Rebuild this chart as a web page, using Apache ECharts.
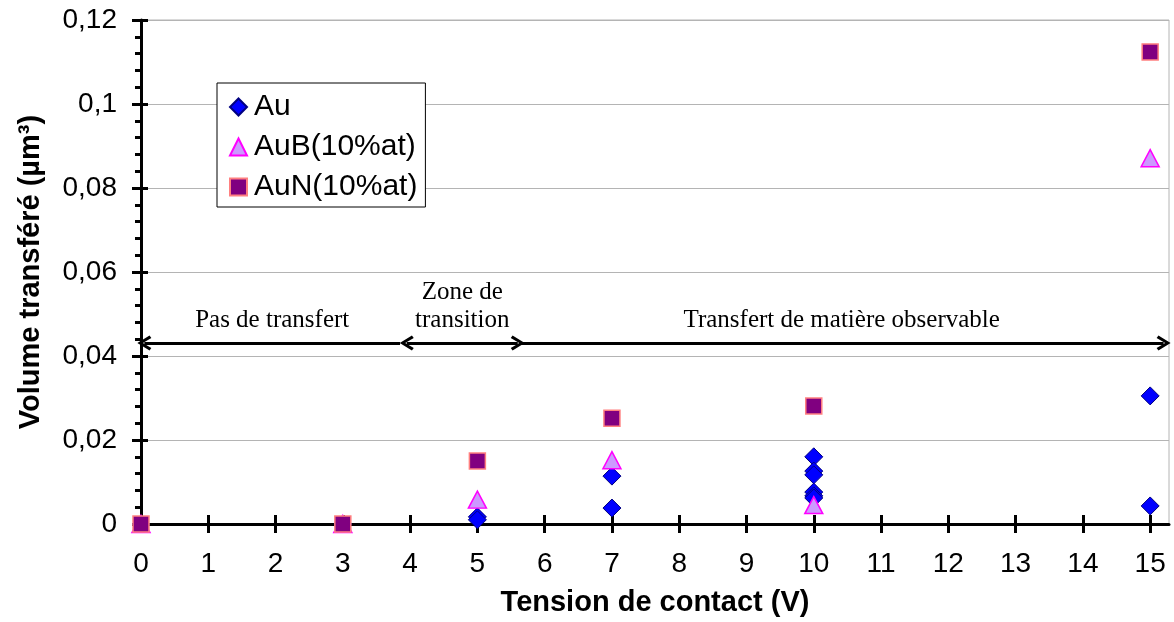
<!DOCTYPE html>
<html><head><meta charset="utf-8">
<script src="https://cdn.jsdelivr.net/npm/echarts@6/dist/echarts.min.js"></script>
<style>html,body{margin:0;padding:0;background:#fff}#c{width:1174px;height:622px}</style>
</head><body><div id="c"></div>
<script>
// Data
const xTicks = [0,1,2,3,4,5,6,7,8,9,10,11,12,13,14,15];
const auData  = [[0,0],[3,0],[5,0.0017],[5,0.001],[7,0.0114],[7,0.0038],[10,0.016],[10,0.0126],[10,0.0117],[10,0.0076],[10,0.0067],[10,0.0062],[15,0.0305],[15,0.0043]];
const aubData = [[0,0],[3,0],[5,0.0058],[7,0.0152],[10,0.0045],[15,0.0871]];
const aunData = [[0,0],[3,0],[5,0.015],[7,0.0252],[10,0.0281],[15,0.1124]];
const zoneY = 0.0431;
const zones = [
  {from:0.05, to:3.85, label:'Pas de transfert', sym:['chev','none']},
  {from:3.95, to:5.6, label:'Zone de\ntransition', sym:['chev','chev']},
  {from:5.63, to:15.2, label:'Transfert de matière observable', sym:['none','chev']}
];

const chart = echarts.init(document.getElementById('c'));
const sans = 'Liberation Sans, Arial, sans-serif';
const serif = 'Liberation Serif, Times New Roman, serif';
const fmtY = v => v === 0 ? '0' : String(+v.toFixed(2)).replace('.', ',');
const X_MAX = 15.28;
const CHEV = 'path://M6,0 L12,10 L10,11.5 L6,4.5 L2,11.5 L0,10 Z';
const sym = s => s === 'chev' ? CHEV : 'none';

chart.setOption({
  animation:false,
  backgroundColor:'#fff',
  grid:{left:141, right:5, top:20, bottom:98, show:true, borderColor:'#B4B4B4', borderWidth:1, backgroundColor:'transparent'},
  legend:{
    orient:'vertical', left:217, top:83,
    backgroundColor:'#fff', borderColor:'#000', borderWidth:1,
    padding:[9,8,5,12], itemGap:10, itemWidth:17, itemHeight:17,
    textStyle:{fontFamily:sans, fontSize:30, color:'#000', padding:[0,0,0,2]},
    data:['Au','AuB(10%at)','AuN(10%at)']
  },
  xAxis:[{
    type:'value', min:0, max:X_MAX, interval:1, position:'bottom',
    name:'Tension de contact (V)', nameLocation:'middle', nameGap:64,
    nameTextStyle:{fontFamily:sans, fontSize:29, fontWeight:'bold', color:'#000'},
    axisLine:{show:true, onZero:false, lineStyle:{color:'#000', width:3}},
    axisTick:{show:true, inside:false, length:9, customValues:xTicks, lineStyle:{color:'#000', width:3}},
    axisLabel:{customValues:xTicks, margin:26, fontFamily:sans, fontSize:28, color:'#000'},
    splitLine:{show:false}
  },{
    type:'value', min:0, max:X_MAX, interval:1, position:'bottom',
    axisLine:{show:false, onZero:false},
    axisTick:{show:true, inside:true, length:9, customValues:xTicks, lineStyle:{color:'#000', width:3}},
    axisLabel:{show:false}, splitLine:{show:false}
  }],
  yAxis:[{
    type:'value', min:0, max:0.12, interval:0.02, position:'left',
    name:'Volume transféré (µm³)', nameLocation:'middle', nameGap:96,
    nameTextStyle:{fontFamily:sans, fontSize:29, fontWeight:'bold', color:'#000'},
    axisLine:{show:true, onZero:false, lineStyle:{color:'#000', width:3}},
    axisTick:{show:true, inside:false, length:9, lineStyle:{color:'#000', width:3}},
    minorTick:{show:true, splitNumber:5, length:6, lineStyle:{color:'#000', width:3}},
    axisLabel:{formatter:fmtY, margin:24, fontFamily:sans, fontSize:28, color:'#000'},
    splitLine:{show:true, lineStyle:{color:'#B4B4B4', width:1}}
  },{
    type:'value', min:0, max:0.12, interval:0.02, position:'left',
    axisLine:{show:false, onZero:false},
    axisTick:{show:true, inside:true, length:7, lineStyle:{color:'#000', width:3}},
    axisLabel:{show:false}, splitLine:{show:false}
  }],
  series:[
    {name:'Au', type:'scatter', data:auData, symbol:'diamond', symbolSize:[18,18],
     itemStyle:{color:'#0000FF', borderColor:'#000080', borderWidth:1, opacity:1}, z:3},
    {name:'AuB(10%at)', type:'scatter', data:aubData, symbol:'triangle', symbolSize:[18,17],
     itemStyle:{color:'#CC99FF', borderColor:'#FF00FF', borderWidth:1.5, opacity:1}, z:4},
    {name:'AuN(10%at)', type:'scatter', data:aunData, symbol:'rect', symbolSize:[16,16],
     itemStyle:{color:'#800080', borderColor:'#FF8080', borderWidth:1.5, opacity:1}, z:5},
    {name:'zones', type:'line', data:[], silent:true,
     markLine:{
       silent:true, animation:false,
       symbolSize:[15,14],
       data: zones.map(z => [
         {coord:[z.from, zoneY], symbol:sym(z.sym[0]),
          lineStyle:{color:'#000', width:3, type:'solid'},
          itemStyle:{color:'#000'},
          label:{show:true, position:'middle', formatter:z.label, fontFamily:serif,
                 fontSize:25, color:'#000', lineHeight:28, distance:9}},
         {coord:[z.to, zoneY], symbol:sym(z.sym[1])}
       ])
     }}
  ]
});
</script></body></html>
